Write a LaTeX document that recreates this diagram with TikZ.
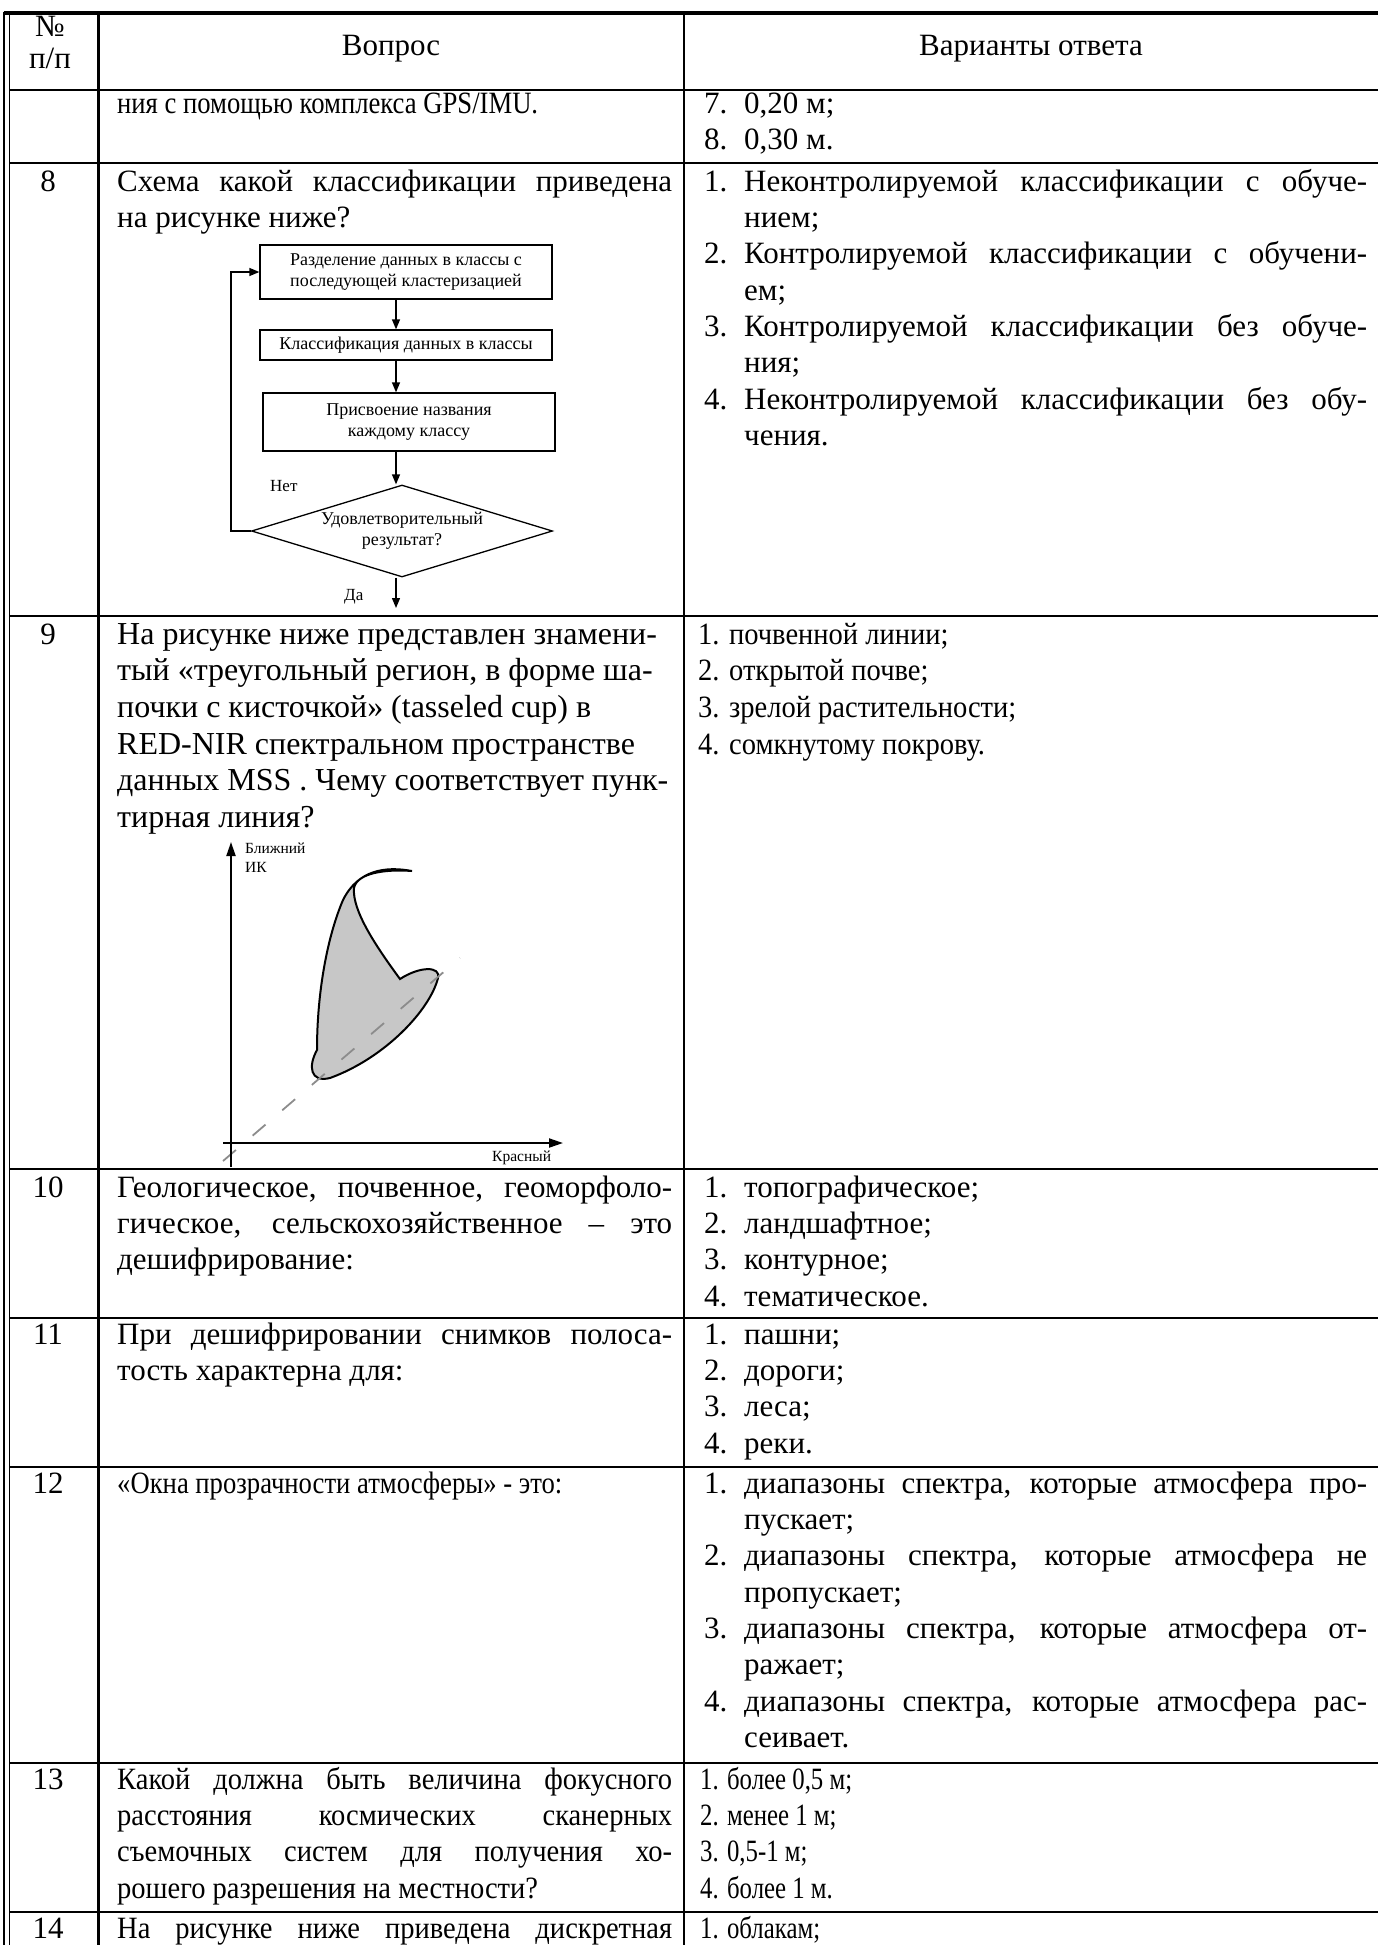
\documentclass[tikz,border=0pt]{standalone}
\usepackage{fontspec}
\setmainfont{Liberation Serif}
\newfontfamily\narrowfont[FakeStretch=0.92]{Liberation Serif}
\newfontfamily\slimfont[FakeStretch=0.86]{Liberation Serif}
\newfontfamily\thinfont[FakeStretch=0.8]{Liberation Serif}
\usetikzlibrary{arrows.meta, positioning, shapes.geometric}

% выровненные по ширине строки
\newcommand{\jq}[1]{\makebox[555pt][s]{#1}}
\newcommand{\ja}[1]{\makebox[623pt][s]{#1}}
\newcommand{\itm}[1]{\makebox[40pt][l]{#1}}

\begin{document}
\begin{tikzpicture}[x=1pt, y=-1pt, >={Triangle[length=10pt, width=8pt]},
		txt/.style={anchor=mid west, inner sep=0pt, font=\fontsize{31}{36}\selectfont},
		ntxt/.style={txt, font=\fontsize{31}{36}\selectfont\narrowfont},
		stxt/.style={txt, font=\fontsize{31}{36}\selectfont\slimfont},
		ttxt/.style={txt, font=\fontsize{31}{36}\selectfont\thinfont},
		num/.style={anchor=mid, inner sep=0pt, font=\fontsize{31}{36}\selectfont},
		rule/.style={line width=2.2pt},
		fcbox/.style={draw, line width=1.3pt, inner sep=0pt, align=center, font=\fontsize{18}{21}\selectfont},
		fclbl/.style={anchor=mid west, inner sep=0pt, font=\fontsize{17}{20}\selectfont},
		axlbl/.style={anchor=mid west, inner sep=0pt, font=\fontsize{15.5}{18}\selectfont}]
	\useasboundingbox (0,0) rectangle (1378,1945);
	
	% --- Сетка таблицы ---
	\draw[line width=3.5pt] (3.5,13) -- (1378,13);
	\draw[line width=1.5pt] (4,12) -- (4,1945);
	\draw[line width=1.5pt] (9.5,13) -- (9.5,1945);
	\draw[rule] (98.5,13) -- (98.5,1945);
	\draw[rule] (684,13) -- (684,1945);
	\foreach \y in {90,163,616,1169,1318,1467,1763,1912}
		\draw[rule] (9.5,\y) -- (1378,\y);
	
	% --- Шапка ---
	\node[num] (nomer) at (50,34.5) {№};
	\node[num] (pp) at (50,66) {п/п};
	\node[num] (hq) at (391,53) {Вопрос};
	\node[num] (ha) at (1031,53) {Варианты ответа};
	
	% --- Номера ---
	\node[num] (n8) at (48,189) {8};
	\node[num] (n9) at (48,642) {9};
	\node[num] (n10) at (48,1195) {10};
	\node[num] (n11) at (48,1342) {11};
	\node[num] (n12) at (48,1491) {12};
	\node[num] (n13) at (48,1787) {13};
	\node[num] (n14) at (48,1936) {14};
	
	% --- Вопросы ---
	\node[stxt] (q7) at (117,111) {ния с помощью комплекса GPS/IMU.};
	\node[txt] (q8a) at (117,189) {\jq{Схема какой классификации приведена}};
	\node[txt] (q8b) at (117,225) {на рисунке ниже?};
	\foreach \t [count=\i from 0] in {{На рисунке ниже представлен знамени-},
			{тый «треугольный регион, в форме ша-},
			{почки с кисточкой» (tasseled cup) в},
			{RED-NIR спектральном пространстве},
			{данных MSS . Чему соответствует пунк-},
			{тирная линия?}}
		\node[txt, font=\fontsize{32}{36}\selectfont] (q9-\i) at (117,642+36.6*\i) {\t};
	\foreach \t [count=\i from 0] in {{\jq{Геологическое, почвенное, геоморфоло-}},
			{\jq{гическое, сельскохозяйственное – это}},
			{дешифрирование:}}
		\node[txt] (q10-\i) at (117,1195+36.3*\i) {\t};
	\node[txt] (q11a) at (117,1342) {\jq{При дешифрировании снимков полоса-}};
	\node[txt] (q11b) at (117,1378.3) {тость характерна для:};
	\node[stxt] (q12) at (117,1491) {«Окна прозрачности атмосферы» - это:};
	\foreach \t [count=\i from 0] in {{\jq{Какой должна быть величина фокусного}},
			{\jq{расстояния космических сканерных}},
			{\jq{съемочных систем для получения хо-}},
			{рошего разрешения на местности?}}
		\node[ntxt] (q13-\i) at (117,1787+36.3*\i) {\t};
	\node[ntxt] (q14) at (117,1936) {\jq{На рисунке ниже приведена дискретная}};
	
	% --- Ответы ---
	\node[txt] (a7a) at (704,111) {\itm{7.}0,20 м;};
	\node[txt] (a7b) at (704,147) {\itm{8.}0,30 м.};
	\foreach \t [count=\i from 0] in {{\itm{1.}\ja{Неконтролируемой классификации с обуче-}},
			{\itm{}нием;},
			{\itm{2.}\ja{Контролируемой классификации с обучени-}},
			{\itm{}ем;},
			{\itm{3.}\ja{Контролируемой классификации без обуче-}},
			{\itm{}ния;},
			{\itm{4.}\ja{Неконтролируемой классификации без обу-}},
			{\itm{}чения.}}
		\node[txt] (a8-\i) at (704,189+36.3*\i) {\t};
	\foreach \t [count=\i from 0] in {{1. почвенной линии;},{2. открытой почве;},
			{3. зрелой растительности;},{4. сомкнутому покрову.}}
		\node[ntxt] (a9-\i) at (698,642+36.6*\i) {\t};
	\foreach \t [count=\i from 0] in {{\itm{1.}топографическое;},{\itm{2.}ландшафтное;},
			{\itm{3.}контурное;},{\itm{4.}тематическое.}}
		\node[txt] (a10-\i) at (704,1195+36.3*\i) {\t};
	\foreach \t [count=\i from 0] in {{\itm{1.}пашни;},{\itm{2.}дороги;},
			{\itm{3.}леса;},{\itm{4.}реки.}}
		\node[txt] (a11-\i) at (704,1342+36.3*\i) {\t};
	\foreach \t [count=\i from 0] in {{\itm{1.}\ja{диапазоны спектра, которые атмосфера про-}},
			{\itm{}пускает;},
			{\itm{2.}\ja{диапазоны спектра, которые атмосфера не}},
			{\itm{}пропускает;},
			{\itm{3.}\ja{диапазоны спектра, которые атмосфера от-}},
			{\itm{}ражает;},
			{\itm{4.}\ja{диапазоны спектра, которые атмосфера рас-}},
			{\itm{}сеивает.}}
		\node[txt] (a12-\i) at (704,1491+36.3*\i) {\t};
	\foreach \t [count=\i from 0] in {{1. более 0,5 м;},{2. менее 1 м;},
			{3. 0,5-1 м;},{4. более 1 м.}}
		\node[ttxt] (a13-\i) at (700,1787+36.3*\i) {\t};
	\node[ttxt] (a14) at (700,1936) {1. облакам;};
	
	% --- Блок-схема (вопрос 8) ---
	\node[fcbox, minimum width=292pt, minimum height=54pt] (b1) at (406,272)
		{Разделение данных в классы с\\последующей кластеризацией};
	\node[fcbox, minimum width=292pt, minimum height=30pt] (b2) at (406,345)
		{Классификация данных в классы};
	\node[fcbox, minimum width=292pt, minimum height=58pt] (b3) at (409,422)
		{Присвоение названия\\каждому классу};
	\node[fcbox, diamond, aspect=3.27, minimum width=301pt, minimum height=92pt] (d) at (402,531)
		{Удовлетворительный\\результат?};
	\coordinate (ax) at (396,0);
	\coordinate (lx) at (231,0);
	\coordinate (out) at (396,608);
	\node[fclbl] (net) at (270,489) {Нет};
	\node[fclbl] (da) at (344,598) {Да};
	
	\draw[->, line width=1.3pt] (b1.south -| ax) -- (b2.north -| ax);
	\draw[->, line width=1.3pt] (b2.south -| ax) -- (b3.north -| ax);
	\draw[->, line width=1.3pt] (b3.south -| ax) -- (d.north -| ax);
	\draw[->, line width=1.3pt] (d.south -| ax) -- (out);
	\draw[->, line width=1.3pt] (d.west) -- (d.west -| lx) |- (b1.west);
	
	% --- Диаграмма RED-NIR (вопрос 9) ---
	\coordinate (ybot) at (231,1167);
	\coordinate (ytop) at (231,842);
	\coordinate (xl) at (223,1143);
	\coordinate (xr) at (563,1143);
	\coordinate (s0) at (223,1161);
	\coordinate (s1) at (460,958);
	\draw[line width=2pt, fill=black!22]
		(412,871) .. controls (385,866) and (358,870) .. (343,900)
		.. controls (328,935) and (317,990) .. (317,1050)
		.. controls (308,1066) and (310,1083) .. (330,1078)
		.. controls (385,1058) and (430,1010) .. (438,978)
		.. controls (441,966) and (420,966) .. (400,979)
		.. controls (375,945) and (352,910) .. (354,888)
		.. controls (357,873) and (385,869) .. (412,871) -- cycle;
	\draw[black!45, line width=1.8pt, dash pattern=on 17pt off 22pt] (s0) -- (s1);
	\draw[line width=2pt, -{Triangle[length=14pt, width=9pt]}] (ybot) -- (ytop);
	\draw[line width=2pt, -{Triangle[length=14pt, width=9pt]}] (xl) -- (xr);
	\node[axlbl] (nir1) at (245,851) {Ближний};
	\node[axlbl] (nir2) at (245,870) {ИК};
	\node[axlbl] (red) at (492,1159) {Красный};
\end{tikzpicture}
\end{document}
